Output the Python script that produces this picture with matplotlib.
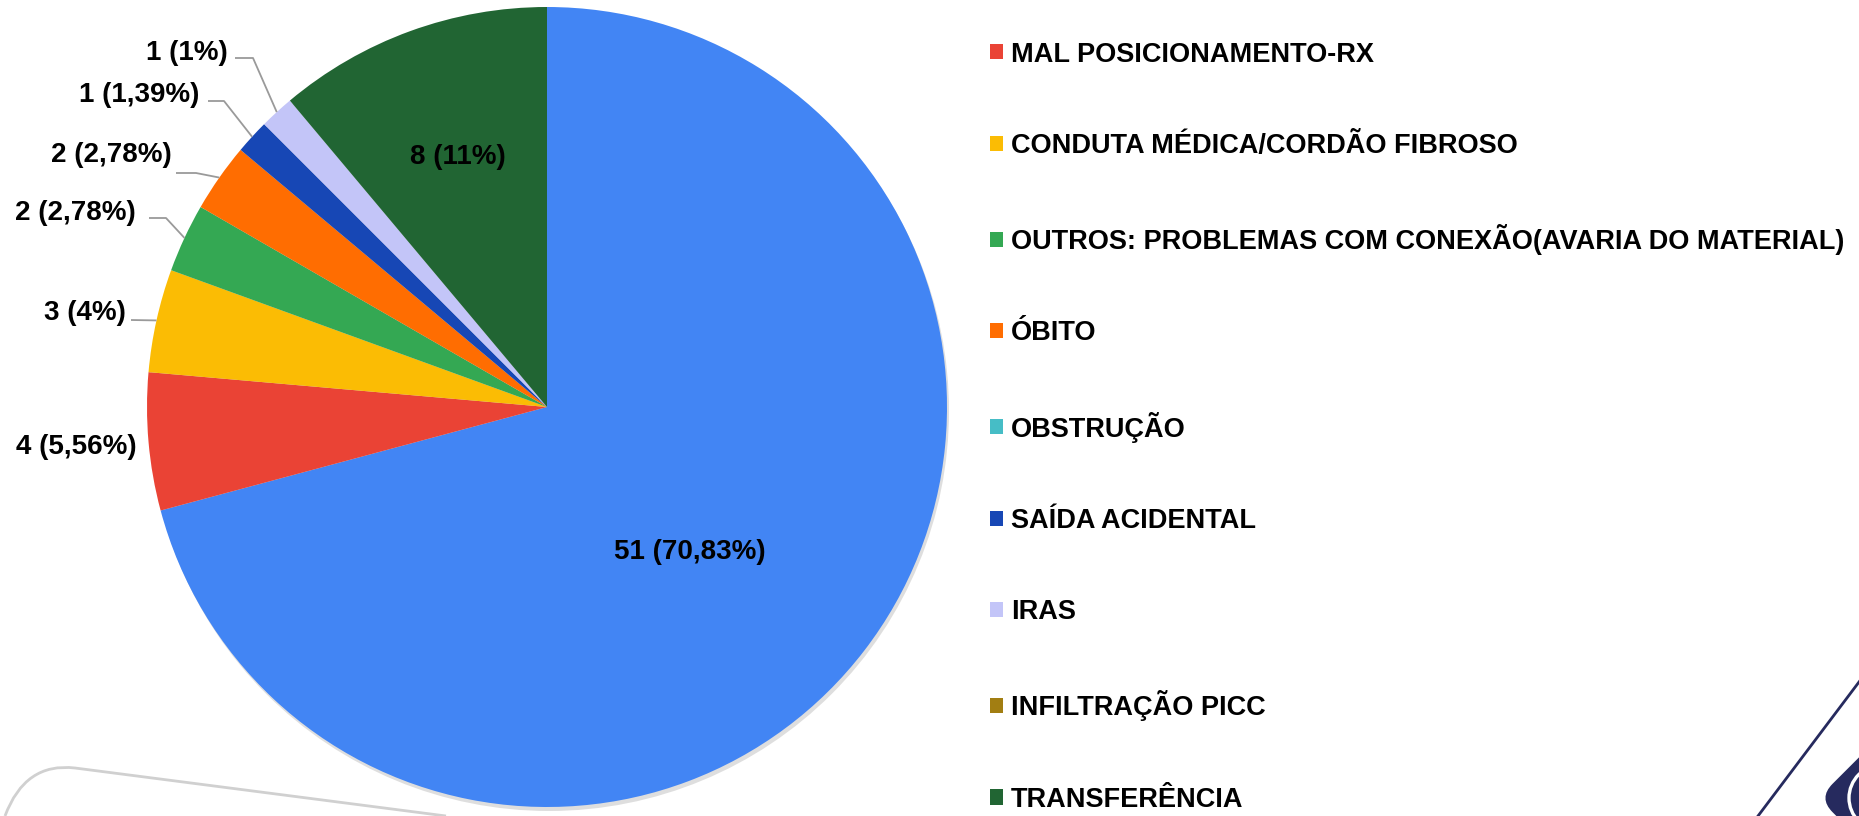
import numpy as np
import matplotlib
matplotlib.use("Agg")
import matplotlib.pyplot as plt
from matplotlib.patches import Patch, Circle, FancyBboxPatch, PathPatch
from matplotlib.path import Path
import matplotlib.transforms as mtrans

plt.rcParams['font.family'] = ['Liberation Sans', 'DejaVu Sans']

# ---------------- data ----------------
main_value = 51
main_label = "51 (70,83%)"
main_color = "#4285F4"

categories = [
    "MAL POSICIONAMENTO-RX",
    "CONDUTA MÉDICA/CORDÃO FIBROSO",
    "OUTROS: PROBLEMAS COM CONEXÃO(AVARIA DO MATERIAL)",
    "ÓBITO",
    "OBSTRUÇÃO",
    "SAÍDA ACIDENTAL",
    "IRAS",
    "INFILTRAÇÃO PICC",
    "TRANSFERÊNCIA",
]
values = [4, 3, 2, 2, 0, 1, 1, 0, 8]
value_labels = ["4 (5,56%)", "3 (4%)", "2 (2,78%)", "2 (2,78%)", "",
                "1 (1,39%)", "1 (1%)", "", "8 (11%)"]
colors = ["#EA4335", "#FBBC04", "#34A853", "#FF6D01", "#46BDC6",
          "#1747B5", "#C3C5F8", "#A27E12", "#216533"]

# ---------------- layout (pixels, image coords: y down) ----------------
W, H = 1859, 816
CX, CY_IMG, R = 547, 407, 400


def Y(y):
    return H - y


fig = plt.figure(figsize=(W / 100, H / 100), dpi=100)
fig.patch.set_facecolor("white")
ax = fig.add_axes([0, 0, 1, 1])

# subtle drop shadow
ax.add_patch(Circle((CX + 2, Y(CY_IMG) - 4), R, facecolor="#c8c8c8",
                    edgecolor="none", alpha=0.6, zorder=0))

all_vals = [main_value] + values
all_cols = [main_color] + colors
wedges, _ = ax.pie(all_vals, colors=all_cols, startangle=90, counterclock=False,
                   center=(CX, Y(CY_IMG)), radius=R, frame=True,
                   wedgeprops=dict(linewidth=0))
for w in wedges:
    w.set_zorder(1)

ax.set_xlim(0, W)
ax.set_ylim(0, H)
ax.set_aspect("auto")
ax.axis("off")

label_font = dict(fontsize=20, fontweight="bold", color="#000000")

# outside labels: slice index (in full list) -> (text right x, text y, line start x, elbow x, line y)
outside = {
    1: (137, 447, None, None, None),
    2: (126, 313, 131, None, 320),
    3: (136, 213, 149, 166, 218),
    4: (172, 155, 176, 196, 173),
    6: (199, 95, 208, 224, 101),
    7: (228, 53, 235, 253, 58),
}
for idx, (tx, ty, x0, xe, ly) in outside.items():
    w = wedges[idx]
    ax.text(tx, Y(ty), value_labels[idx - 1], ha="right", va="center", **label_font)
    if x0 is None:
        continue
    th = np.deg2rad((w.theta1 + w.theta2) / 2)
    ex = CX + R * np.cos(th)
    ey = Y(CY_IMG) + R * np.sin(th)
    xs = [x0]
    ys = [Y(ly)]
    if xe is not None:
        xs.append(xe)
        ys.append(Y(ly))
    xs.append(ex)
    ys.append(ey)
    ax.plot(xs, ys, color="#9a9a9a", lw=1.3, solid_capstyle="butt", zorder=2)

# inside labels
ax.text(458, Y(157), value_labels[8], ha="center", va="center", **label_font)
ax.text(690, Y(552), main_label, ha="center", va="center", **label_font)

# legend
handles = [Patch(facecolor=c, edgecolor="none") for c in colors]
fig.legend(handles, categories, loc="upper left",
           bbox_to_anchor=(990 / W, 1 - 41.5 / H), frameon=False,
           prop=dict(family=['Liberation Sans', 'DejaVu Sans'], weight="bold", size=19.5),
           handlelength=0.48, handleheight=0.48, handletextpad=0.3,
           labelspacing=2.41, borderpad=0, borderaxespad=0)

# decorative gray curve (bottom-left)
verts = [(5, Y(816)), (25, Y(762)), (75, Y(768)), (446, Y(816))]
codes = [Path.MOVETO, Path.CURVE3, Path.CURVE3, Path.LINETO]
ax.add_patch(PathPatch(Path(verts, codes), facecolor="none", edgecolor="#d0d0d0",
                       lw=2.0, clip_on=False, zorder=0))

# decorative logo (bottom-right)
navy = "#262a5e"
ax.plot([1758, 1862], [Y(816), Y(678)], color=navy, lw=2.0, clip_on=False)
lcx, lcy, s = 1882, Y(798), 90
logo = FancyBboxPatch((lcx - s / 2, lcy - s / 2), s, s,
                      boxstyle="round,pad=0,rounding_size=20",
                      facecolor=navy, edgecolor="none",
                      transform=mtrans.Affine2D().rotate_deg_around(lcx, lcy, 45) + ax.transData,
                      clip_on=False)
ax.add_patch(logo)
ax.add_patch(Circle((lcx, lcy), 33, facecolor="none", edgecolor="white", lw=2.4,
                    clip_on=False))

fig.savefig("out.png", dpi=100, facecolor="white")
